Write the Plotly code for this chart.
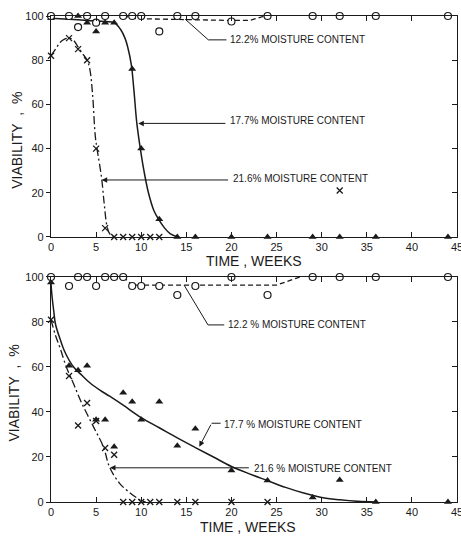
import plotly.graph_objects as go

# ---------------- data ----------------
WEEK_TICKS = [0, 5, 10, 15, 20, 25, 30, 35, 40, 45]
VIAB_TICKS = [0, 20, 40, 60, 80, 100]

# upper panel
TOP_MC122_WEEKS = [0, 2, 3, 4, 5, 6, 8, 9, 10, 12, 14, 16, 20, 24, 29, 32, 36, 44]
TOP_MC122_VIAB = [100, 100, 95, 100, 97, 100, 100, 100, 100, 93, 100, 100, 97.5, 100, 100, 100, 100, 100]
TOP_MC177_WEEKS = [0, 2, 3, 4, 5, 6, 7, 8, 9, 10, 12, 14, 16, 20, 24, 29, 32, 36, 44]
TOP_MC177_VIAB = [99, 99, 100, 97, 93, 97, 97, 100, 76, 40, 8, 0, 0, 0, 0, 0, 0, 0, 0]
TOP_MC216_WEEKS = [0, 2, 3, 4, 5, 6, 7, 8, 9, 10, 11, 12, 32]
TOP_MC216_VIAB = [82, 90, 85, 80, 40, 4, 0, 0, 0, 0, 0, 0, 21]

TOP_FIT122_WEEKS = [8, 9.5, 20, 22, 23.7]
TOP_FIT122_VIAB = [100, 98.8, 98, 98, 100]
TOP_FIT177_WEEKS = [0, 2, 4, 6, 7, 7.7, 8.2, 8.5, 8.9, 9.2, 9.5, 9.9, 10.3, 10.8, 11.4, 12, 12.6, 13.2, 14]
TOP_FIT177_VIAB = [99, 98.5, 98, 97.5, 97, 94, 90, 86, 78, 66, 52, 40, 30, 20, 12, 7.5, 4, 1.5, 0]
TOP_FIT216_WEEKS = [0, 0.5, 1, 1.5, 2, 2.5, 3, 3.5, 4, 4.3, 4.6, 4.9, 5.1, 5.6, 5.9, 6.2, 6.5, 7]
TOP_FIT216_VIAB = [82, 85, 88, 89.5, 90, 89, 86, 83, 80, 76, 65, 46, 40, 27, 15, 5, 1.5, 0]

# lower panel
BOT_MC122_WEEKS = [0, 2, 3, 4, 5, 6, 7, 8, 9, 10, 12, 14, 16, 20, 24, 29, 32, 36, 44]
BOT_MC122_VIAB = [100, 96, 100, 100, 96, 100, 100, 100, 96, 96, 96, 92, 96, 100, 92, 100, 100, 100, 100]
BOT_MC177_WEEKS = [0, 2, 3, 4, 5, 6, 7, 8, 9, 10, 12, 14, 16, 20, 24, 29, 32, 36, 44]
BOT_MC177_VIAB = [97.5, 60.5, 58.5, 60.5, 36.5, 36.5, 24.5, 48.5, 44.5, 36.5, 44.5, 25, 32.5, 14, 9.5, 2, 9.8, 0, 0]
BOT_MC216_WEEKS = [0, 2, 3, 4, 5, 6, 7, 8, 9, 10, 11, 12, 14, 16, 20, 24]
BOT_MC216_VIAB = [81, 56, 34, 44, 36, 24, 21, 0, 0, 0, 0, 0, 0, 0, 0, 0]

BOT_FIT122_WEEKS = [8, 9, 25, 27.6]
BOT_FIT122_VIAB = [100, 96.4, 96.4, 100]
BOT_FIT177_WEEKS = [0, 0.1, 0.3, 0.5, 1, 1.5, 2.5, 3.5, 4.3, 5.5, 6.5, 8, 10, 12, 14, 16, 18, 20, 22, 24, 26, 28, 30, 32, 34, 36]
BOT_FIT177_VIAB = [97, 92, 85, 79, 72.5, 67, 60, 56, 53, 49.5, 47, 43, 37.5, 33, 28.5, 24.2, 20, 15.8, 12.5, 9.5, 6.5, 4, 2, 1, 0.3, 0]
BOT_FIT216_WEEKS = [0, 0.5, 1, 1.7, 2.5, 3.4, 4.7, 5.8, 6.5, 7.6, 8.8, 9.9, 10.5]
BOT_FIT216_VIAB = [81, 74, 68.5, 60, 52.5, 44, 33.5, 24.6, 15.4, 8.3, 3.9, 0.9, 0]

LABEL_122_TOP = "12.2% MOISTURE CONTENT"
LABEL_177_TOP = "17.7% MOISTURE CONTENT"
LABEL_216_TOP = "21.6% MOISTURE CONTENT"
LABEL_122_BOT = "12.2 % MOISTURE CONTENT"
LABEL_177_BOT = "17.7 % MOISTURE CONTENT"
LABEL_216_BOT = "21.6 % MOISTURE CONTENT"
X_TITLE = "TIME , WEEKS"
Y_TITLE = "VIABILITY\u00a0\u00a0,\u00a0\u00a0%"

# ---------------- figure ----------------
INK = "#1a1a1a"
FONT = "Liberation Sans, Arial, sans-serif"

fig = go.Figure()


def add_panel(xa, ya, c_x, c_y, t_x, t_y, x_x, x_y, f122, f177, f216):
    common = dict(xaxis=xa, yaxis=ya, cliponaxis=False, hoverinfo="skip", showlegend=False)
    fig.add_trace(go.Scatter(x=f122[0], y=f122[1], mode="lines",
                             line=dict(color=INK, width=1.3, dash="5px,3px"), **common))
    fig.add_trace(go.Scatter(x=f177[0], y=f177[1], mode="lines", line_shape="spline",
                             line=dict(color=INK, width=1.5), **common))
    fig.add_trace(go.Scatter(x=f216[0], y=f216[1], mode="lines", line_shape="spline",
                             line=dict(color=INK, width=1.3, dash="8px,3px,2px,3px"), **common))
    fig.add_trace(go.Scatter(x=t_x, y=t_y, mode="markers",
                             marker=dict(symbol="triangle-up", size=7, color=INK), **common))
    fig.add_trace(go.Scatter(x=x_x, y=x_y, mode="markers",
                             marker=dict(symbol="x-thin", size=6, line=dict(color=INK, width=1.3)), **common))
    fig.add_trace(go.Scatter(x=c_x, y=c_y, mode="markers",
                             marker=dict(symbol="circle", size=7, color="white",
                                         line=dict(color=INK, width=1.2)), **common))


add_panel("x", "y", TOP_MC122_WEEKS, TOP_MC122_VIAB, TOP_MC177_WEEKS, TOP_MC177_VIAB,
          TOP_MC216_WEEKS, TOP_MC216_VIAB,
          (TOP_FIT122_WEEKS, TOP_FIT122_VIAB), (TOP_FIT177_WEEKS, TOP_FIT177_VIAB),
          (TOP_FIT216_WEEKS, TOP_FIT216_VIAB))
add_panel("x2", "y2", BOT_MC122_WEEKS, BOT_MC122_VIAB, BOT_MC177_WEEKS, BOT_MC177_VIAB,
          BOT_MC216_WEEKS, BOT_MC216_VIAB,
          (BOT_FIT122_WEEKS, BOT_FIT122_VIAB), (BOT_FIT177_WEEKS, BOT_FIT177_VIAB),
          (BOT_FIT216_WEEKS, BOT_FIT216_VIAB))

# invisible traces so the right-hand tick axes are drawn
fig.add_trace(go.Scatter(x=[None], y=[None], xaxis="x", yaxis="y3", showlegend=False, hoverinfo="skip"))
fig.add_trace(go.Scatter(x=[None], y=[None], xaxis="x2", yaxis="y4", showlegend=False, hoverinfo="skip"))

TOP_DOM = [0.5453, 1.0]
BOT_DOM = [0.0, 0.463]

xax = dict(range=[0, 45], tickvals=WEEK_TICKS, ticks="inside", ticklen=5, tickwidth=1,
           tickcolor=INK, showline=True, linecolor=INK, linewidth=1.3, mirror="ticks",
           showgrid=False, zeroline=False, automargin=False, ticklabeloverflow="allow",
           tickfont=dict(size=11, color=INK, family=FONT))
yax = dict(range=[0, 100], tickvals=VIAB_TICKS, ticks="outside", ticklen=4, tickwidth=1,
           tickcolor=INK, showline=True, linecolor=INK, linewidth=1.3, mirror=True,
           showgrid=False, zeroline=False, automargin=False,
           tickfont=dict(size=11, color=INK, family=FONT))
yright = dict(range=[0, 100], tickvals=VIAB_TICKS, ticks="inside", ticklen=5, tickwidth=1,
              tickcolor=INK, showline=False, showticklabels=False, showgrid=False,
              zeroline=False, side="right", automargin=False)

fig.update_layout(
    width=461, height=537,
    margin=dict(l=51, r=4, t=16, b=35, autoexpand=False),
    paper_bgcolor="white", plot_bgcolor="white",
    font=dict(family=FONT, color=INK),
    xaxis=dict(domain=[0, 1], anchor="y", **xax),
    yaxis=dict(domain=TOP_DOM, anchor="x", **yax),
    xaxis2=dict(domain=[0, 1], anchor="y2", **xax),
    yaxis2=dict(domain=BOT_DOM, anchor="x2", **yax),
    yaxis3=dict(overlaying="y", anchor="x", **yright),
    yaxis4=dict(overlaying="y2", anchor="x2", **yright),
)

LBL = dict(size=10, color=INK, family=FONT)
anns = []
shapes = []


def text(xr, yr, x, y, s):
    anns.append(dict(xref=xr, yref=yr, x=x, y=y, text=s, showarrow=False,
                     xanchor="left", yanchor="middle", font=LBL))


def arrow(xr, yr, tip, tail):
    anns.append(dict(xref=xr, yref=yr, axref=xr, ayref=yr, x=tip[0], y=tip[1],
                     ax=tail[0], ay=tail[1], text="", showarrow=True, arrowhead=2,
                     arrowsize=1.1, arrowwidth=1, arrowcolor=INK, standoff=0, startstandoff=0))


def poly(xr, yr, pts):
    path = "M " + " L ".join(f"{px},{py}" for px, py in pts)
    shapes.append(dict(type="path", xref=xr, yref=yr, path=path,
                       line=dict(color=INK, width=1)))


# upper panel call-outs
poly("x", "y", [(14.86, 98.6), (17.44, 89.2), (19.45, 89.2)])
text("x", "y", 19.6, 89.2, LABEL_122_TOP)
arrow("x", "y", (9.68, 51.4), (19.5, 51.4))
text("x", "y", 19.6, 52.6, LABEL_177_TOP)
arrow("x", "y", (5.62, 25.8), (19.8, 25.8))
text("x", "y", 19.9, 26.6, LABEL_216_TOP)

# lower panel call-outs
poly("x2", "y2", [(14.75, 96.4), (17.4, 78.7), (19.2, 78.7)])
text("x2", "y2", 19.35, 78.7, LABEL_122_BOT)
arrow("x2", "y2", (16.44, 24.6), (17.8, 35))
poly("x2", "y2", [(17.8, 35), (18.8, 35)])
text("x2", "y2", 19.0, 34.6, LABEL_177_BOT)
arrow("x2", "y2", (6.54, 15.2), (22.1, 15.2))
text("x2", "y2", 22.25, 14.8, LABEL_216_BOT)

# axis titles
TITLE_FONT = dict(size=14, color=INK, family=FONT)
anns.append(dict(xref="paper", yref="paper", x=-0.084, y=0.745, text=Y_TITLE, textangle=-90,
                 showarrow=False, xanchor="center", yanchor="middle", font=TITLE_FONT))
anns.append(dict(xref="paper", yref="paper", x=-0.090, y=0.224, text=Y_TITLE, textangle=-90,
                 showarrow=False, xanchor="center", yanchor="middle", font=TITLE_FONT))
anns.append(dict(xref="paper", yref="paper", x=0.500, y=0.496, text=X_TITLE,
                 showarrow=False, xanchor="center", yanchor="middle", font=TITLE_FONT))
anns.append(dict(xref="paper", yref="paper", x=0.484, y=-0.052, text=X_TITLE,
                 showarrow=False, xanchor="center", yanchor="middle", font=TITLE_FONT))

fig.update_layout(annotations=anns, shapes=shapes)

fig.write_html("out.html", config={"displayModeBar": False},
               post_script="document.body.style.margin='0px';document.body.style.overflow='hidden';")
